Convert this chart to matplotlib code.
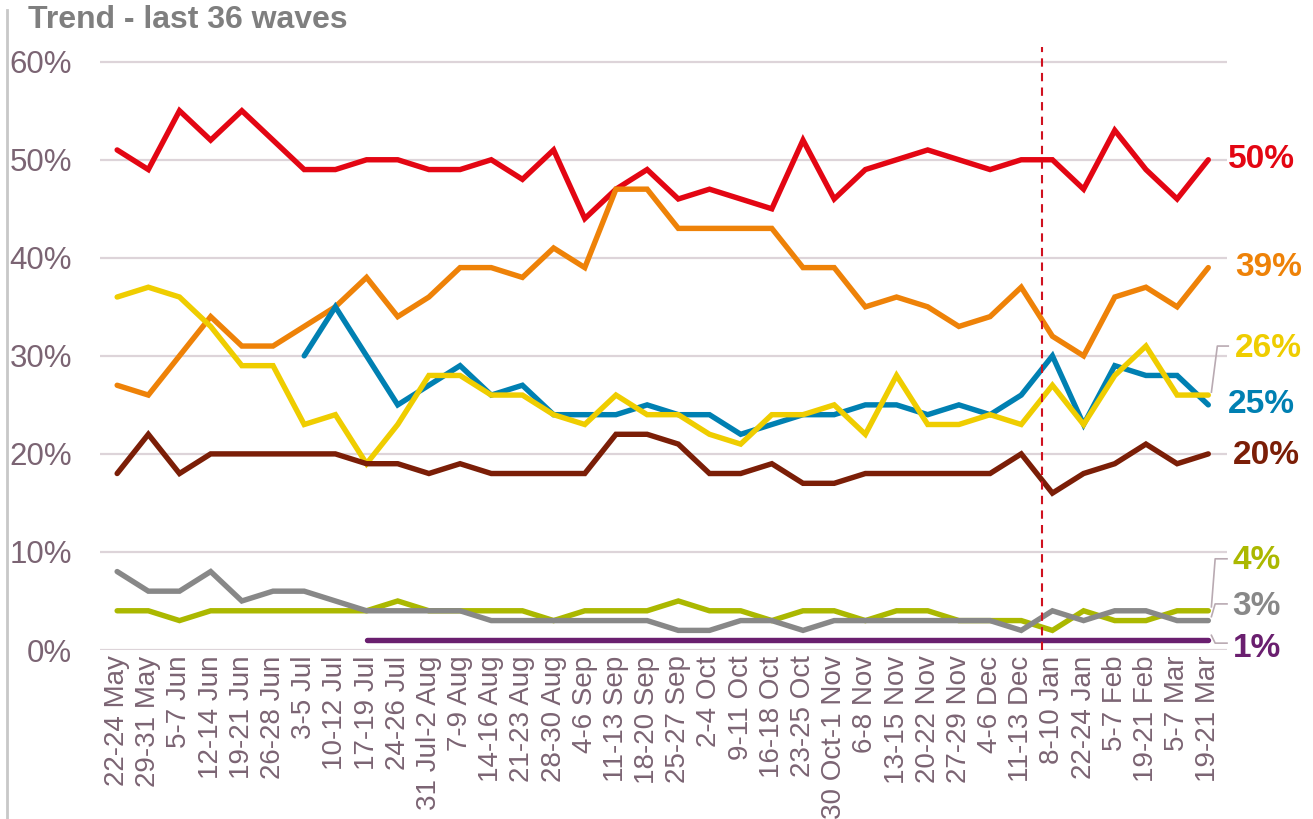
"""
Trend chart - last 36 waves
"""

import numpy as np
import matplotlib.pyplot as plt
from matplotlib.lines import Line2D

plt.rcParams['font.family'] = ['Liberation Sans', 'DejaVu Sans']

waves = ['22-24 May', '29-31 May', '5-7 Jun', '12-14 Jun', '19-21 Jun',
         '26-28 Jun', '3-5 Jul', '10-12 Jul', '17-19 Jul', '24-26 Jul',
         '31 Jul-2 Aug', '7-9 Aug', '14-16 Aug', '21-23 Aug', '28-30 Aug',
         '4-6 Sep', '11-13 Sep', '18-20 Sep', '25-27 Sep', '2-4 Oct',
         '9-11 Oct', '16-18 Oct', '23-25 Oct', '30 Oct-1 Nov', '6-8 Nov',
         '13-15 Nov', '20-22 Nov', '27-29 Nov', '4-6 Dec', '11-13 Dec',
         '8-10 Jan', '22-24 Jan', '5-7 Feb', '19-21 Feb', '5-7 Mar',
         '19-21 Mar']

nan = np.nan
red = [51, 49, 55, 52, 55, 52, 49, 49, 50, 50, 49, 49, 50, 48, 51, 44, 47, 49,
       46, 47, 46, 45, 52, 46, 49, 50, 51, 50, 49, 50, 50, 47, 53, 49, 46, 50]
orange = [27, 26, 30, 34, 31, 31, 33, 35, 38, 34, 36, 39, 39, 38, 41, 39, 47, 47,
          43, 43, 43, 43, 39, 39, 35, 36, 35, 33, 34, 37, 32, 30, 36, 37, 35, 39]
blue = [nan, nan, nan, nan, nan, nan, 30, 35, 30, 25, 27, 29, 26, 27, 24, 24, 24, 25,
        24, 24, 22, 23, 24, 24, 25, 25, 24, 25, 24, 26, 30, 23, 29, 28, 28, 25]
yellow = [36, 37, 36, 33, 29, 29, 23, 24, 19, 23, 28, 28, 26, 26, 24, 23, 26, 24,
          24, 22, 21, 24, 24, 25, 22, 28, 23, 23, 24, 23, 27, 23, 28, 31, 26, 26]
brown = [18, 22, 18, 20, 20, 20, 20, 20, 19, 19, 18, 19, 18, 18, 18, 18, 22, 22,
         21, 18, 18, 19, 17, 17, 18, 18, 18, 18, 18, 20, 16, 18, 19, 21, 19, 20]
lime = [4, 4, 3, 4, 4, 4, 4, 4, 4, 5, 4, 4, 4, 4, 3, 4, 4, 4,
        5, 4, 4, 3, 4, 4, 3, 4, 4, 3, 3, 3, 2, 4, 3, 3, 4, 4]
gray = [8, 6, 6, 8, 5, 6, 6, 5, 4, 4, 4, 4, 3, 3, 3, 3, 3, 3,
        2, 2, 3, 3, 2, 3, 3, 3, 3, 3, 3, 2, 4, 3, 4, 4, 3, 3]
purple = [nan] * 8 + [1] * 28

series = [
    (red, '#e30613'),
    (orange, '#ee8208'),
    (blue, '#0080b2'),
    (yellow, '#efcd00'),
    (brown, '#7b1e07'),
    (lime, '#abb800'),
    (gray, '#888888'),
    (purple, '#6a1f6f'),
]

tick_color = '#7b6473'
x = np.arange(len(waves))

fig = plt.figure(figsize=(13.13, 8.19), dpi=100)
ax = fig.add_axes([100 / 1313, 169 / 819, 1127 / 1313, 603 / 819])

for yv in range(0, 61, 10):
    ax.axhline(yv, color='#ddd4d9', lw=1.6, zorder=1)

for vals, col in series:
    ax.plot(x, vals, color=col, lw=3.9, solid_capstyle='round',
            solid_joinstyle='miter', zorder=3)

# break between waves
ax.axvline(29.67, color='#d0111f', lw=1.5, ls=(0, (4, 3)), zorder=4)

ax.set_xlim(-0.55, 35.6)
ax.set_ylim(0, 61.5)
ax.set_yticks(range(0, 61, 10))
ax.set_yticklabels([f'{v}%' for v in range(0, 61, 10)])
ax.set_xticks(x)
ax.set_xticklabels(waves, rotation=90, va='top', ha='center')
ax.tick_params(axis='y', length=0, pad=20, labelsize=22.5, labelcolor=tick_color)
ax.tick_params(axis='x', length=0, pad=4, labelsize=20, labelcolor=tick_color)
for s in ax.spines.values():
    s.set_visible(False)

# end labels
end_labels = [
    ('50%', 35.64, 50.0, '#e30613'),
    ('39%', 35.85, 39.0, '#ee8208'),
    ('26%', 35.85, 30.8, '#efcd00'),
    ('25%', 35.64, 25.0, '#0080b2'),
    ('20%', 35.78, 19.8, '#7b1e07'),
    ('4%', 35.78, 9.1, '#abb800'),
    ('3%', 35.78, 4.4, '#888888'),
    ('1%', 35.78, 0.2, '#6a1f6f'),
]
for txt, lx, ly, col in end_labels:
    ax.text(lx, ly, txt, color=col, fontsize=24, fontweight='bold',
            va='center', ha='left', clip_on=False)

leader = '#b9aab2'
for xs, ys in [([35.1, 35.29, 35.64], [26.3, 31.0, 31.0]),
               ([35.1, 35.22, 35.6], [4.4, 9.3, 9.3]),
               ([35.1, 35.22, 35.6], [3.4, 4.7, 4.7]),
               ([35.1, 35.22, 35.6], [1.5, 0.7, 0.7])]:
    ax.plot(xs, ys, color=leader, lw=1.2, clip_on=False, zorder=2)

fig.text(28 / 1313, 1 - 20 / 819, 'Trend - last 36 waves', fontsize=23,
         fontweight='bold', color='#7f7f7f', va='center', ha='left')
fig.add_artist(Line2D([7 / 1313, 7 / 1313], [0, 1 - 10 / 819],
                      transform=fig.transFigure, color='#c8c8c8', lw=2))

fig.savefig('out.png', dpi=100)
